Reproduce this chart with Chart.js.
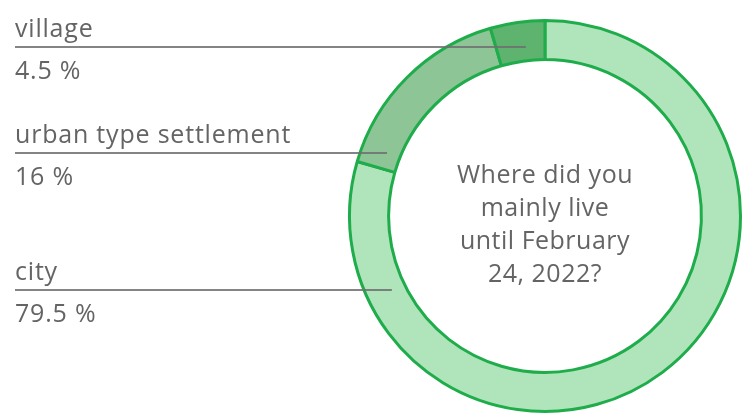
<!DOCTYPE html>
<html>
<head>
<meta charset="utf-8">
<title>Residence before February 24, 2022</title>
<script src="https://cdn.jsdelivr.net/npm/chart.js@4"></script>
<style>
  html, body { margin: 0; padding: 0; background: #fff; }
  #wrap { width: 743px; height: 417px; position: relative; }
</style>
</head>
<body>
<div id="wrap"><canvas id="residenceChart"></canvas></div>
<script>
// Survey answers
const categories = ["city", "urban type settlement", "village"];
const shares = [79.5, 16, 4.5];
const sliceColors = ["#b0e5bb", "#8dc597", "#5eb36e"];
const question = ["Where did you", "mainly live", "until February", "24, 2022?"];

// Left-hand label rows: y of the leader line for each category
const labelLineY = [290, 153, 47];

const textColor = "#646464";
const fontFamily = "'Open Sans', 'Noto Sans', sans-serif";

// Labels with leader lines running into the ring, plus the question in the hole
const sideLabels = {
  id: "sideLabels",
  afterDatasetsDraw(chart) {
    const { ctx } = chart;
    const arcs = chart.getDatasetMeta(0).data;
    ctx.save();
    arcs.forEach((arc, i) => {
      const y = labelLineY[i];
      const r = arc.innerRadius + (arc.outerRadius - arc.innerRadius) * 0.35;
      const dy = y - arc.y;
      const endX = arc.x - Math.sqrt(Math.max(r * r - dy * dy, 0));

      ctx.strokeStyle = "rgba(110,110,110,0.85)";
      ctx.lineWidth = 2;
      ctx.beginPath();
      ctx.moveTo(15, y);
      ctx.lineTo(endX, y);
      ctx.stroke();

      ctx.fillStyle = textColor;
      ctx.font = "25px " + fontFamily;
      ctx.letterSpacing = "0.8px";
      ctx.textAlign = "left";
      ctx.textBaseline = "alphabetic";
      ctx.fillText(categories[i], 15, y - 10);
      ctx.fillText(shares[i] + " %", 15, y + 32);
    });

    const c = arcs[0];
    ctx.textAlign = "center";
    ctx.font = "25px " + fontFamily;
    ctx.letterSpacing = "0.5px";
    question.forEach((line, k) => {
      ctx.fillText(line, c.x, 183 + k * 33);
    });
    ctx.restore();
  }
};

new Chart(document.getElementById("residenceChart"), {
  type: "doughnut",
  data: {
    labels: categories,
    datasets: [{
      data: shares,
      backgroundColor: sliceColors,
      borderColor: "#1fac4b",
      borderWidth: 3
    }]
  },
  options: {
    responsive: true,
    maintainAspectRatio: false,
    animation: false,
    cutout: "80%",
    layout: { padding: { left: 348, top: 19, right: 1, bottom: 4 } },
    plugins: {
      legend: { display: false },
      tooltip: { enabled: false }
    }
  },
  plugins: [sideLabels]
});
</script>
</body>
</html>
